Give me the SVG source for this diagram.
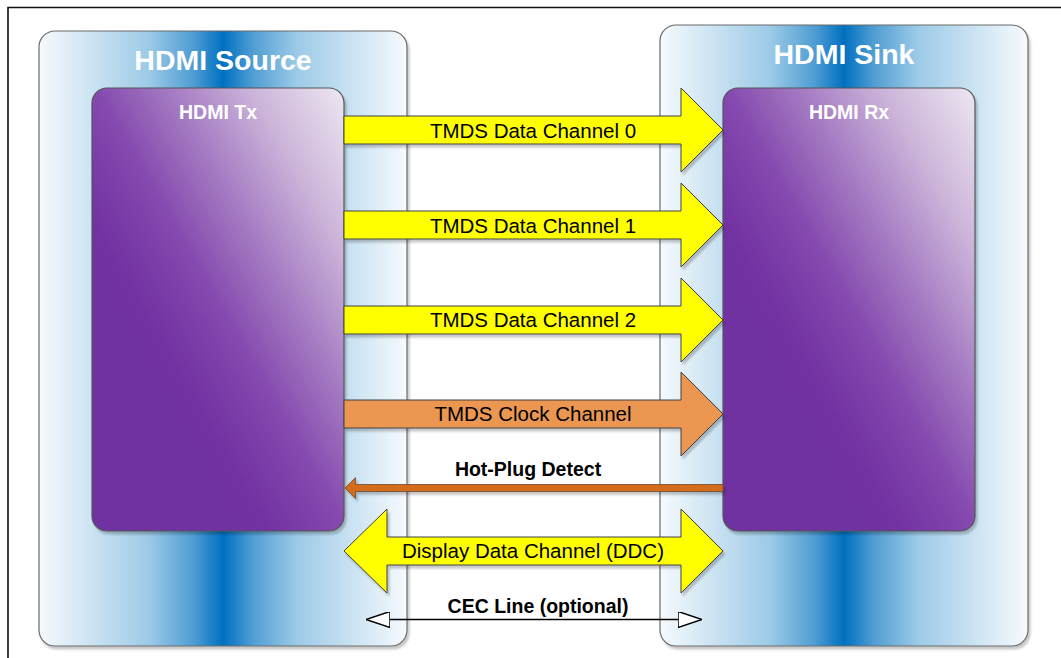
<svg xmlns="http://www.w3.org/2000/svg" width="1061" height="658" viewBox="0 0 1061 658">
<defs>
<linearGradient id="blue" x1="0" y1="0" x2="1" y2="0">
<stop offset="0" stop-color="#f6fafd"/>
<stop offset="0.12" stop-color="#d3e7f4"/>
<stop offset="0.3" stop-color="#9ccae7"/>
<stop offset="0.42" stop-color="#4f9dd3"/>
<stop offset="0.5" stop-color="#0070c0"/>
<stop offset="0.58" stop-color="#4f9dd3"/>
<stop offset="0.7" stop-color="#9ccae7"/>
<stop offset="0.88" stop-color="#d3e7f4"/>
<stop offset="1" stop-color="#f6fafd"/>
</linearGradient>
<linearGradient id="purple" x1="1" y1="0" x2="0" y2="1">
<stop offset="0" stop-color="#ece7f1"/>
<stop offset="0.18" stop-color="#cdb6da"/>
<stop offset="0.35" stop-color="#a47ac2"/>
<stop offset="0.5" stop-color="#8448ae"/>
<stop offset="0.65" stop-color="#7232a2"/>
<stop offset="1" stop-color="#7030a0"/>
</linearGradient>
<filter id="sh" x="-10%" y="-10%" width="120%" height="130%">
<feDropShadow dx="2" dy="3" stdDeviation="1.2" flood-color="#000" flood-opacity="0.22"/>
</filter>
<marker id="open" viewBox="0 0 24 16" refX="1" refY="8" markerWidth="24" markerHeight="16" markerUnits="userSpaceOnUse" orient="auto-start-reverse">
<path d="M24,8 L0,0 L0,16 Z" fill="#fff" stroke="#000" stroke-width="1.5"/>
</marker>
<style>
.outer{fill:url(#blue);stroke:#6a6a6a;stroke-width:1.2}
.inner{fill:url(#purple);stroke:#555;stroke-width:1.2}
.title{font-family:"Liberation Sans",Arial,sans-serif;font-weight:bold;fill:#fff;text-anchor:middle}
.lbl{font-family:"Liberation Sans",Arial,sans-serif;font-size:20.5px;fill:#000;text-anchor:middle}
.blbl{font-family:"Liberation Sans",Arial,sans-serif;font-size:19.5px;font-weight:bold;fill:#000;text-anchor:middle}
.yel{fill:#ffff00;stroke:#404040;stroke-width:1}
.org{fill:#eb9751;stroke:#404040;stroke-width:1}
</style>
</defs>
<rect width="1061" height="658" fill="#fff"/>
<path d="M8,658 L8,7.5 L1061,7.5" fill="none" stroke="#111" stroke-width="1.6"/>

<g id="source">
<rect class="outer" x="39" y="31" width="368" height="615" rx="16" filter="url(#sh)"/>
<text class="title" x="223" y="70" font-size="28.5">HDMI Source</text>
</g>
<g id="sink">
<rect class="outer" x="660" y="25" width="368" height="621" rx="16" filter="url(#sh)"/>
<text class="title" x="844" y="64" font-size="28.5">HDMI Sink</text>
</g>
<g id="tx">
<rect class="inner" x="92" y="88" width="252" height="443" rx="15" filter="url(#sh)"/>
<text class="title" x="218" y="119" font-size="19.5">HDMI Tx</text>
</g>
<g id="rx">
<rect class="inner" x="723" y="88" width="252" height="443" rx="15" filter="url(#sh)"/>
<text class="title" x="849" y="119" font-size="19.5">HDMI Rx</text>
</g>

<g id="connectors">
<g filter="url(#sh)">
<polygon class="yel" points="344,116 681,116 681,88 723,130 681,172 681,144 344,144"/>
<polygon class="yel" points="344,211 681,211 681,183 723,225 681,267 681,239 344,239"/>
<polygon class="yel" points="344,306 681,306 681,278 723,320 681,362 681,334 344,334"/>
<polygon class="org" points="344,400 681,400 681,372 723,414 681,456 681,428 344,428"/>
<polygon points="723,484.5 355.5,484.5 355.5,477.5 345,488 355.5,498.5 355.5,491.5 723,491.5" fill="#d46c1f" stroke="#6b4a30" stroke-width="0.8"/>
<polygon class="yel" points="344,551 387,509 387,537 681,537 681,509 723,551 681,593 681,565 387,565 387,593"/>
</g>
<line x1="389" y1="619.5" x2="679" y2="619.5" stroke="#000" stroke-width="1.5" marker-start="url(#open)" marker-end="url(#open)"/>
<text class="lbl" x="533" y="138">TMDS Data Channel 0</text>
<text class="lbl" x="533" y="233">TMDS Data Channel 1</text>
<text class="lbl" x="533" y="327">TMDS Data Channel 2</text>
<text class="lbl" x="533" y="421">TMDS Clock Channel</text>
<text class="blbl" x="528" y="476">Hot-Plug Detect</text>
<text class="lbl" x="533" y="558">Display Data Channel (DDC)</text>
<text class="blbl" x="538" y="613">CEC Line (optional)</text>
</g>
</svg>
